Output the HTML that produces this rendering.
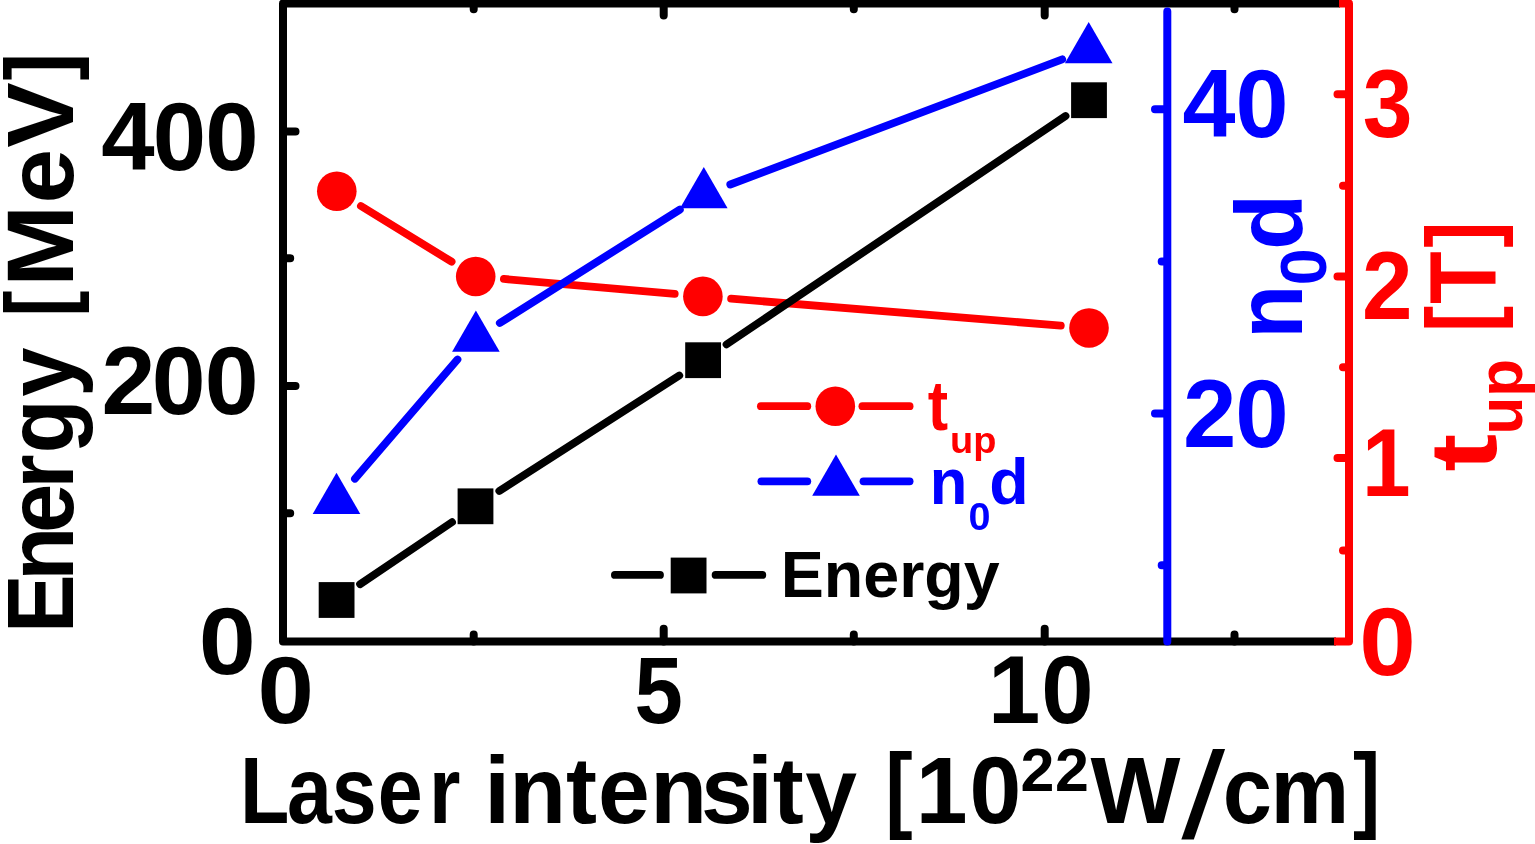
<!DOCTYPE html>
<html lang="en"><head><meta charset="utf-8"><title>Energy, n0d and t_up versus laser intensity</title>
<style>
html,body{margin:0;padding:0;background:#fff;overflow:hidden}
svg{display:block;font-family:"Liberation Sans",sans-serif;font-weight:bold}
</style></head><body>
<svg width="1535" height="844" viewBox="0 0 1535 844">
<rect width="1535" height="844" fill="#fff"/>
<g stroke-width="7.8" stroke-linecap="round" fill="none">
<line x1="360.92" y1="206.01" x2="451.58" y2="261.69" stroke="#f00"/>
<line x1="503.89" y1="278.97" x2="674.71" y2="293.93" stroke="#f00"/>
<line x1="731.11" y1="298.71" x2="1060.79" y2="325.69" stroke="#f00"/>
<circle cx="336.8" cy="191.2" r="19.8" fill="#f00"/>
<circle cx="475.7" cy="276.5" r="19.8" fill="#f00"/>
<circle cx="702.9" cy="296.4" r="19.8" fill="#f00"/>
<circle cx="1089" cy="328" r="19.8" fill="#f00"/>
<line x1="354.95" y1="478.74" x2="457.45" y2="359.56" stroke="#00f"/>
<line x1="499.84" y1="323.01" x2="679.86" y2="209.59" stroke="#00f"/>
<line x1="730.28" y1="184.52" x2="1062.22" y2="59.38" stroke="#00f"/>
<polygon points="336.5,472.7 360.3,513.95 312.7,513.95" fill="#00f"/>
<polygon points="475.9,310.6 499.7,351.85 452.1,351.85" fill="#00f"/>
<polygon points="703.8,167 727.6,208.25 680,208.25" fill="#00f"/>
<polygon points="1088.7,21.9 1112.5,63.15 1064.9,63.15" fill="#00f"/>
<line x1="360.06" y1="584.17" x2="452.04" y2="522.13" stroke="#000"/>
<line x1="499.32" y1="491.01" x2="679.28" y2="375.49" stroke="#000"/>
<line x1="726.57" y1="344.39" x2="1065.53" y2="116.01" stroke="#000"/>
<rect x="318.7" y="582.1" width="35.8" height="35.8" fill="#000"/>
<rect x="457.6" y="488.4" width="35.8" height="35.8" fill="#000"/>
<rect x="685.2" y="342.3" width="35.8" height="35.8" fill="#000"/>
<rect x="1071.1" y="82.3" width="35.8" height="35.8" fill="#000"/>
<line x1="760.9" y1="406.2" x2="807.3" y2="406.2" stroke="#f00"/>
<line x1="862.4" y1="406.2" x2="909.6" y2="406.2" stroke="#f00"/>
<circle cx="835.3" cy="406.2" r="19.8" fill="#f00"/>
<line x1="761.4" y1="481.3" x2="807.3" y2="481.3" stroke="#00f"/>
<line x1="863.5" y1="481.3" x2="909.6" y2="481.3" stroke="#00f"/>
<polygon points="836,454.4 859.8,495.65 812.2,495.65" fill="#00f"/>
<line x1="614.9" y1="574.9" x2="660" y2="574.9" stroke="#000"/>
<line x1="715.6" y1="574.9" x2="762.3" y2="574.9" stroke="#000"/>
<rect x="670.7" y="557.6" width="35.8" height="35.8" fill="#000"/>
</g>
<g stroke-width="8" stroke-linecap="round" stroke-linejoin="round" fill="none">
<path d="M283 131.4H295.5M283 386H295.5M283 258.2H290.2M283 513.3H290.2M663.7 641.5V628.8M663.7 3.5V15.5M1044.7 641.5V628.8M1044.7 3.5V15.5M473.7 641.5V634.5M473.7 3.5V9.2M853.8 641.5V634.5M853.8 3.5V9.2M1234.5 641.5V634.5M1234.5 3.5V9.2" stroke="#000"/>
<path d="M1340 3.5H283V641.5H1336" stroke="#000" stroke-linecap="butt"/>
<path d="M1167.3 11.6V641.5M1167.3 109.2H1155M1167.3 413.5H1155M1167.3 261.6H1161.7M1167.3 565.3H1161.7" stroke="#00f"/>
<path d="M1349 94.3H1337.5M1349 276.6H1337.5M1349 457.9H1337.5M1349 185.7H1343M1349 367.2H1343M1349 550.4H1343" stroke="#f00"/>
<path d="M1339 3.5H1349V641.5H1334" stroke="#f00" stroke-linecap="butt"/>
</g>
<text transform="translate(257.48 722.89) scale(1.0795 1.0090)" font-size="94" fill="#000">0</text>
<text transform="translate(634.42 722.99) scale(0.9255 1.0061)" font-size="94" fill="#000">5</text>
<text transform="translate(994.1 723.38) scale(1.0011 1.0164)" font-size="94" fill="#000" x="-6 46.99">10</text>
<text transform="translate(102.3 170.27) scale(1.0209 1.0254)" font-size="94" fill="#000" x="-1 49.45 100.89">400</text>
<text transform="translate(104.6 414.47) scale(1.0299 1.0328)" font-size="94" fill="#000" x="-3 45.86 97.23">200</text>
<text transform="translate(198.64 674.49) scale(1.0909 1.0119)" font-size="94" fill="#000">0</text>
<text transform="translate(1183.4 137.47) scale(1.0137 1.0284)" font-size="94" fill="#00f" x="-1 51.44">40</text>
<text transform="translate(1186 447.08) scale(1.0222 1.0224)" font-size="94" fill="#00f" x="-3 48.07">20</text>
<text transform="translate(1362.7 137.48) scale(0.9511 1.0194)" font-size="94" fill="#f00">3</text>
<text transform="translate(1362 318.8) scale(0.9652 1.0227)" font-size="94" fill="#f00">2</text>
<text transform="translate(1362.02 495.5) scale(0.9295 1.0215)" font-size="94" fill="#f00">1</text>
<text transform="translate(1359.17 674.88) scale(1.0818 1.0209)" font-size="94" fill="#f00">0</text>
<text transform="translate(245.1 822.7) scale(0.8590 1)" font-size="94" fill="#000" x="-6 48.91 100.95 154.53 214.02">Laser</text>
<text transform="translate(491.1 822.7) scale(0.9904 1)" font-size="94" fill="#000" x="-7 18.22 75.68 107.84 160.61 211.87 258.49 284.37 317.25">intensity</text>
<text transform="translate(885.22 820) scale(0.8760 1.0000)" font-size="94" fill="#000">[</text>
<text transform="translate(921.8 822.7) scale(0.9909 1)" font-size="94" fill="#000" x="-6 48.17">10</text>
<text transform="translate(1022.5 791) scale(0.9817 1)" font-size="62" fill="#000" x="-2 32.99">22</text>
<text transform="translate(1090.4 822.7) scale(1.0136 1)" font-size="94" fill="#000">W</text>
<text transform="translate(1180.82 837.31) skewX(-10.41) scale(1.1200 1.2929)" font-size="94" fill="#000">/</text>
<text transform="translate(1226.4 822.7) scale(0.9419 1)" font-size="94" fill="#000" x="-4 46.76">cm</text>
<text transform="translate(1353.03 820) scale(0.8720 1.0000)" font-size="94" fill="#000">]</text>
<text transform="translate(73.4 627.5) rotate(-90) scale(0.9424 1)" font-size="94" fill="#000" x="-6 49.65 100.31 147.34 184.61 244.89">Energy</text>
<text transform="translate(70.18 316.68) rotate(-90) scale(0.8360 0.9910)" font-size="94" fill="#000">[</text>
<text transform="translate(73.4 280.6) rotate(-90) scale(1.0453 1)" font-size="94" fill="#000" x="-6 73.8 127.06">MeV</text>
<text transform="translate(70.18 80.58) rotate(-90) scale(0.8840 0.9910)" font-size="94" fill="#000">]</text>
<text transform="translate(1301.6 338.75) rotate(-90) scale(0.9413 1)" font-size="94" fill="#00f">n</text>
<text transform="translate(1326.2 285.44) rotate(-90) scale(1.0467 1)" font-size="64" fill="#00f">0</text>
<text transform="translate(1301.6 250.01) rotate(-90) scale(0.9787 1)" font-size="94" fill="#00f">d</text>
<text transform="translate(1496.3 471.4) rotate(-90) scale(1.2034 1)" font-size="94" fill="#f00">t</text>
<text transform="translate(1521.5 434.43) rotate(-90) scale(0.9814 1)" font-size="63" fill="#f00">up</text>
<text transform="translate(1493.3 331.9) rotate(-90) scale(0.8400 1.0000)" font-size="94" fill="#f00">[</text>
<text transform="translate(1496.3 303.92) rotate(-90) scale(0.9200 1)" font-size="94" fill="#f00">T</text>
<text transform="translate(1493.3 247.64) rotate(-90) scale(0.8360 1.0000)" font-size="94" fill="#f00">]</text>
<text transform="translate(927.75 429.9) scale(0.9550 1.0976)" font-size="64" fill="#f00">t</text>
<text transform="translate(950.05 453.3) scale(1.0262 1)" font-size="37" fill="#f00">up</text>
<text transform="translate(929.81 504) scale(0.9469 1)" font-size="65" fill="#00f">n</text>
<text transform="translate(968.56 529.8) scale(1.0706 1.0654)" font-size="37" fill="#00f">0</text>
<text transform="translate(989.17 504) scale(1.0094 1)" font-size="64" fill="#00f">d</text>
<text transform="translate(780.66 597.2) scale(1.0099 1)" font-size="64" fill="#000">Energy</text>
</svg>
</body></html>
